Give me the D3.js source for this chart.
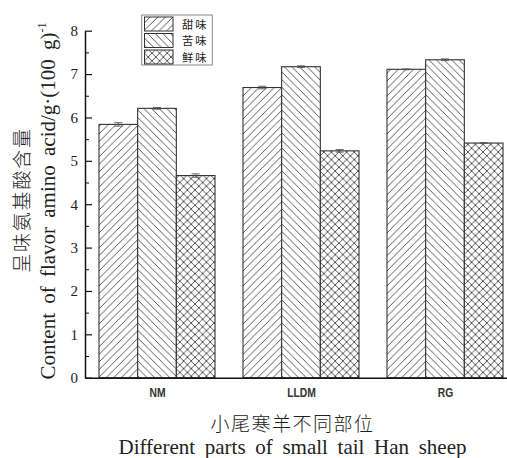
<!DOCTYPE html>
<html>
<head>
<meta charset="utf-8">
<script src="https://cdn.jsdelivr.net/npm/d3@7"></script>
<style>
  html, body { margin: 0; padding: 0; background: #fff; }
  svg { display: block; }
</style>
</head>
<body>
<svg id="chart" width="507" height="458"></svg>
<script>
// Sampling sites and taste groups
const categories = ["NM", "LLDM", "RG"];
const seriesNames = ["甜味", "苦味", "鲜味"];

// Flavor amino acid content, g/100 g
const sweetValues = [5.84, 6.69, 7.11];
const bitterValues = [6.21, 7.17, 7.33];
const umamiValues = [4.66, 5.23, 5.41];

// Standard deviations
const sweetErrors = [0.04, 0.03, 0.01];
const bitterErrors = [0.02, 0.02, 0.02];
const umamiErrors = [0.04, 0.03, 0.01];

const yTicks = [0, 1, 2, 3, 4, 5, 6, 7, 8];
const yMinorTicks = [0.5, 1.5, 2.5, 3.5, 4.5, 5.5, 6.5, 7.5];

const seriesValues = [sweetValues, bitterValues, umamiValues];
const seriesErrors = [sweetErrors, bitterErrors, umamiErrors];
const patternIds = ["hatch-sweet", "hatch-bitter", "hatch-umami"];

const rows = categories.map((c, i) => ({
  category: c,
  bars: seriesNames.map((s, j) => ({ series: s, idx: j, value: seriesValues[j][i], err: seriesErrors[j][i] }))
}));

const svg = d3.select("#chart");
const serif = "'Liberation Serif', 'DejaVu Serif', serif";
const cjk = "'Noto Sans CJK SC', sans-serif";

// Hatch fills
const defs = svg.append("defs");
function hatch(id, dirs) {
  const p = defs.append("pattern")
    .attr("id", id)
    .attr("patternUnits", "userSpaceOnUse")
    .attr("width", 7.6).attr("height", 7.6);
  p.append("rect").attr("width", 7.6).attr("height", 7.6).attr("fill", "#fff");
  dirs.forEach(a => {
    const d = a === "/"
      ? "M-1,1 L1,-1 M0,7.6 L7.6,0 M6.6,8.6 L8.6,6.6"
      : "M-1,6.6 L1,8.6 M0,0 L7.6,7.6 M6.6,-1 L8.6,1";
    p.append("path").attr("d", d).attr("stroke", "#444").attr("stroke-width", 0.9);
  });
}
hatch(patternIds[0], ["/"]);
hatch(patternIds[1], ["\\"]);
hatch(patternIds[2], ["/", "\\"]);

// Scales
const x0 = d3.scalePoint().domain(categories).range([85, 517]).padding(0.5);
const x1 = d3.scaleBand().domain(seriesNames).range([-58, 58]);
const y = d3.scaleLinear().domain([0, 8]).range([377.7, 30.7]);

// Bars
const groups = svg.append("g").selectAll("g")
  .data(rows).join("g")
  .attr("transform", d => `translate(${x0(d.category)},0)`);

groups.selectAll("rect")
  .data(d => d.bars).join("rect")
  .attr("x", d => x1(d.series))
  .attr("y", d => y(d.value))
  .attr("width", x1.bandwidth())
  .attr("height", d => y(0) - y(d.value))
  .attr("fill", d => `url(#${patternIds[d.idx]})`)
  .attr("stroke", "#333")
  .attr("stroke-width", 1.1);

// Error bars
const eb = groups.selectAll("g.err")
  .data(d => d.bars).join("g").attr("class", "err")
  .attr("stroke", "#555").attr("stroke-width", 0.9);
const cx = d => x1(d.series) + x1.bandwidth() / 2;
eb.append("line")
  .attr("x1", cx).attr("x2", cx)
  .attr("y1", d => y(d.value - d.err))
  .attr("y2", d => y(d.value + d.err));
eb.append("line")
  .attr("x1", d => cx(d) - 4).attr("x2", d => cx(d) + 4)
  .attr("y1", d => y(d.value + d.err)).attr("y2", d => y(d.value + d.err));
eb.append("line")
  .attr("x1", d => cx(d) - 4).attr("x2", d => cx(d) + 4)
  .attr("y1", d => y(d.value - d.err)).attr("y2", d => y(d.value - d.err));

// Y axis with inward ticks
const yAxis = svg.append("g").attr("transform", "translate(85,0)")
  .call(d3.axisLeft(y).tickValues(yTicks).tickFormat(d3.format("d"))
    .tickSizeInner(-7).tickSizeOuter(0).tickPadding(7));
svg.append("g").attr("transform", "translate(85,0)")
  .call(d3.axisLeft(y).tickValues(yMinorTicks).tickFormat("")
    .tickSizeInner(-4).tickSizeOuter(0))
  .call(g => g.select(".domain").remove());
yAxis.select(".domain").attr("stroke", "#111").attr("stroke-width", 1.5);
yAxis.selectAll(".tick line").attr("stroke-width", 1.2);
yAxis.attr("font-family", null);
yAxis.selectAll("text").style("font-family", serif).style("font-size", "15px").attr("fill", "#222");
svg.selectAll(".tick line").attr("stroke", "#111");

// X axis
const xAxis = svg.append("g").attr("transform", `translate(0,${y(0)})`)
  .call(d3.axisBottom(x0).tickSize(0).tickSizeOuter(0).tickPadding(11));
xAxis.select(".domain").attr("stroke", "#111").attr("stroke-width", 1.5);
xAxis.selectAll("text")
  .style("font-family", "'Liberation Sans', sans-serif")
  .attr("font-weight", "bold")
  .style("font-size", "12px").attr("fill", "#333")
  .attr("transform", "scale(0.86,1)");

// Spread words of a text element to a target length
function spreadWords(sel, target) {
  const len = sel.node().getComputedTextLength();
  const spaces = (sel.text().match(/ /g) || []).length;
  if (spaces > 0 && len < target) sel.attr("word-spacing", (target - len) / spaces);
}

// X axis titles
svg.append("text")
  .attr("x", 292.5).attr("y", 431)
  .attr("text-anchor", "middle")
  .attr("font-family", cjk).attr("font-size", 19).attr("font-weight", 300)
  .attr("letter-spacing", 1.5)
  .attr("fill", "#222")
  .text("小尾寒羊不同部位");
const xt = svg.append("text")
  .attr("x", 292.5).attr("y", 454)
  .attr("text-anchor", "middle")
  .attr("font-family", serif).attr("font-size", 21)
  .attr("fill", "#222")
  .text("Different parts of small tail Han sheep");
spreadWords(xt, 348);

// Y axis titles
svg.append("text")
  .attr("transform", "translate(29,200) rotate(-90)")
  .attr("text-anchor", "middle")
  .attr("font-family", cjk).attr("font-size", 19).attr("font-weight", 300)
  .attr("letter-spacing", 1.8)
  .attr("fill", "#222")
  .text("呈味氨基酸含量");
const yt = svg.append("text")
  .attr("transform", "translate(55,201) rotate(-90)")
  .attr("text-anchor", "middle")
  .attr("font-family", serif).attr("font-size", 21)
  .attr("fill", "#222");
const ytMain = yt.append("tspan").text("Content of flavor amino acid/g·(100 g)");
yt.append("tspan").attr("dy", -9).attr("font-size", 12).text("-1");
spreadWords(ytMain, 347);

// Legend
const legend = svg.append("g");
legend.append("rect")
  .attr("x", 141.7).attr("y", 15).attr("width", 70.6).attr("height", 50)
  .attr("fill", "#fff").attr("stroke", "#888").attr("stroke-width", 1);
legend.selectAll("rect.swatch")
  .data(seriesNames).join("rect").attr("class", "swatch")
  .attr("x", 144.5).attr("y", (d, i) => 17 + i * 16.5)
  .attr("width", 28.5).attr("height", 14)
  .attr("fill", (d, i) => `url(#${patternIds[i]})`)
  .attr("stroke", "#333").attr("stroke-width", 1);
legend.selectAll("text.label")
  .data(seriesNames).join("text").attr("class", "label")
  .attr("x", 182)
  .attr("y", (d, i) => 28.5 + i * 16.5)
  .attr("font-family", cjk).attr("font-size", 11.3).attr("letter-spacing", 2)
  .attr("fill", "#222")
  .text(d => d);
</script>
</body>
</html>
